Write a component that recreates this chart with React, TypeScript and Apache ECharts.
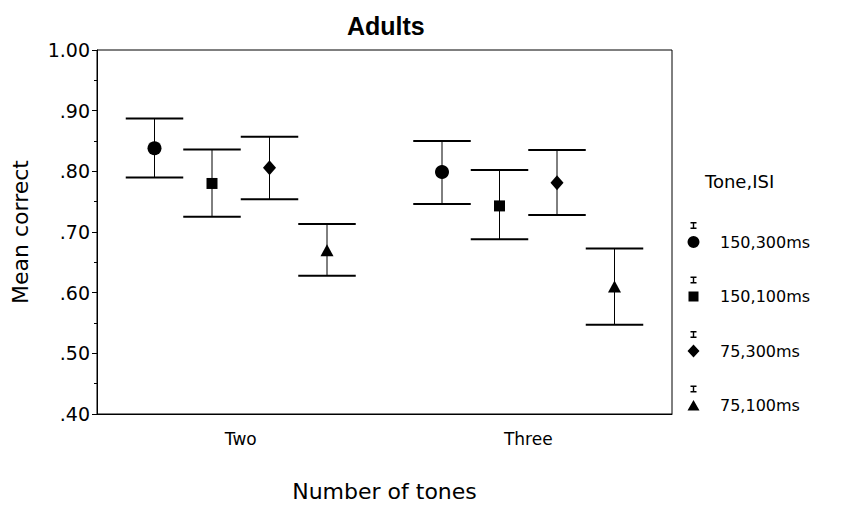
import React, { useEffect, useRef } from "react";
import * as echarts from "echarts";

const categories = ["Two", "Three"];
const seriesNames = ["150,300ms", "150,100ms", "75,300ms", "75,100ms"];
const means = [
  [0.838, 0.799],
  [0.780, 0.743],
  [0.806, 0.781],
  [0.670, 0.610],
];
const lower = [
  [0.790, 0.746],
  [0.725, 0.688],
  [0.754, 0.728],
  [0.628, 0.547],
];
const upper = [
  [0.887, 0.850],
  [0.836, 0.802],
  [0.857, 0.835],
  [0.713, 0.673],
];
const offsets = [-0.3, -0.1, 0.1, 0.3];
const symbols = ["circle", "rect", "diamond", "triangle"];
const symbolSizes: any[] = [14, 11, [13, 15], [13, 12]];

const IBAR = "M3.5,0H9.5V1.4H7.2V5.6H9.5V7H3.5V5.6H5.8V1.4H3.5Z";
const BOUNDS = "M0,0h0.01v0.01h-0.01Z M28,40h-0.01v-0.01h0.01Z";
const legendShapes = [
  "M0.5,20A6,6 0 1,1 12.5,20A6,6 0 1,1 0.5,20Z",
  "M1.5,15H11.5V25H1.5Z",
  "M6.5,13.5L12.5,20L6.5,26.5L0.5,20Z",
  "M6.5,14.5L12.5,25L0.5,25Z",
];

const FONT = "DejaVu Sans";

export default function App() {
  const ref = useRef<HTMLDivElement>(null);
  useEffect(() => {
    document.body.style.margin = "0";
    const chart = echarts.init(ref.current!, undefined, { renderer: "svg" });
    const series: any[] = [];
    seriesNames.forEach((name, i) => {
      series.push({
        type: "scatter",
        name,
        xAxisIndex: 1,
        yAxisIndex: 0,
        symbol: symbols[i],
        symbolSize: symbolSizes[i],
        itemStyle: { color: "#000", opacity: 1 },
        z: 5,
        data: categories.map((_, c) => [c + offsets[i], means[i][c]]),
      });
      series.push({
        type: "custom",
        name: name + " error",
        xAxisIndex: 1,
        yAxisIndex: 0,
        encode: { x: 0, y: [1, 2] },
        data: categories.map((_, c) => [c + offsets[i], lower[i][c], upper[i][c]]),
        renderItem: (params: any, api: any) => {
          const x = api.value(0);
          const lo = api.value(1);
          const hi = api.value(2);
          const pLo = api.coord([x, lo]);
          const pHi = api.coord([x, hi]);
          const half = api.coord([x + 0.1, hi])[0] - pHi[0];
          return {
            type: "group",
            children: [
              { type: "line", shape: { x1: pHi[0], y1: pHi[1], x2: pLo[0], y2: pLo[1] }, style: { stroke: "#000", lineWidth: 1 } },
              { type: "line", shape: { x1: pHi[0] - half, y1: pHi[1], x2: pHi[0] + half, y2: pHi[1] }, style: { stroke: "#000", lineWidth: 2 } },
              { type: "line", shape: { x1: pLo[0] - half, y1: pLo[1], x2: pLo[0] + half, y2: pLo[1] }, style: { stroke: "#000", lineWidth: 2 } },
            ],
          };
        },
      });
    });
    chart.setOption({
      animation: false,
      backgroundColor: "#fff",
      title: [
        {
          text: "Adults",
          left: 342,
          top: 8,
          textStyle: { fontFamily: "Liberation Sans", fontWeight: "bold", fontSize: 25, color: "#000" },
        },
        {
          text: "Tone,ISI",
          left: 700,
          top: 167,
          textStyle: { fontFamily: FONT, fontWeight: "normal", fontSize: 18, color: "#000" },
        },
      ],
      legend: {
        orient: "vertical",
        left: 682,
        top: 217,
        itemWidth: 28,
        itemHeight: 40,
        itemGap: 14.5,
        data: seriesNames.map((n, i) => ({ name: n, icon: "path://" + IBAR + " " + legendShapes[i] + " " + BOUNDS })),
        textStyle: { fontFamily: FONT, fontSize: 16, color: "#000" },
        itemStyle: { opacity: 1 },
        selectedMode: false,
      },
      grid: {
        left: 97,
        top: 50,
        width: 575,
        height: 364,
        show: true,
        borderColor: "#000",
        borderWidth: 1,
        backgroundColor: "transparent",
      },
      xAxis: [
        {
          type: "category",
          data: categories,
          boundaryGap: true,
          axisLine: { lineStyle: { color: "#000", width: 1 } },
          axisTick: { alignWithLabel: true, length: 4, lineStyle: { color: "#000" } },
          axisLabel: { fontFamily: FONT, fontSize: 17, color: "#000", margin: 16 },
          name: "Number of tones",
          nameLocation: "middle",
          nameGap: 66,
          nameTextStyle: { fontFamily: FONT, fontSize: 22, color: "#000" },
          splitLine: { show: false },
        },
        {
          type: "value",
          min: -0.5,
          max: 1.5,
          show: false,
          splitLine: { show: false },
        },
      ],
      yAxis: {
        type: "value",
        min: 0.4,
        max: 1.0,
        interval: 0.1,
        axisLine: { show: true, onZero: false, lineStyle: { color: "#000", width: 1 } },
        axisTick: { show: true, length: 5, lineStyle: { color: "#000" } },
        minorTick: { show: true, splitNumber: 2, length: 3, lineStyle: { color: "#000" } },
        splitLine: { show: false },
        axisLabel: {
          fontFamily: FONT,
          fontSize: 19,
          color: "#000",
          margin: 7,
          formatter: (v: number) => (Math.abs(v - 1) < 1e-9 ? "1.00" : v.toFixed(2).replace(/^0/, "")),
        },
        name: "Mean correct",
        nameLocation: "middle",
        nameGap: 66,
        nameTextStyle: { fontFamily: FONT, fontSize: 22, color: "#000" },
      },
      series,
    });
    return () => chart.dispose();
  }, []);
  return <div ref={ref} style={{ width: 842, height: 512 }} />;
}
